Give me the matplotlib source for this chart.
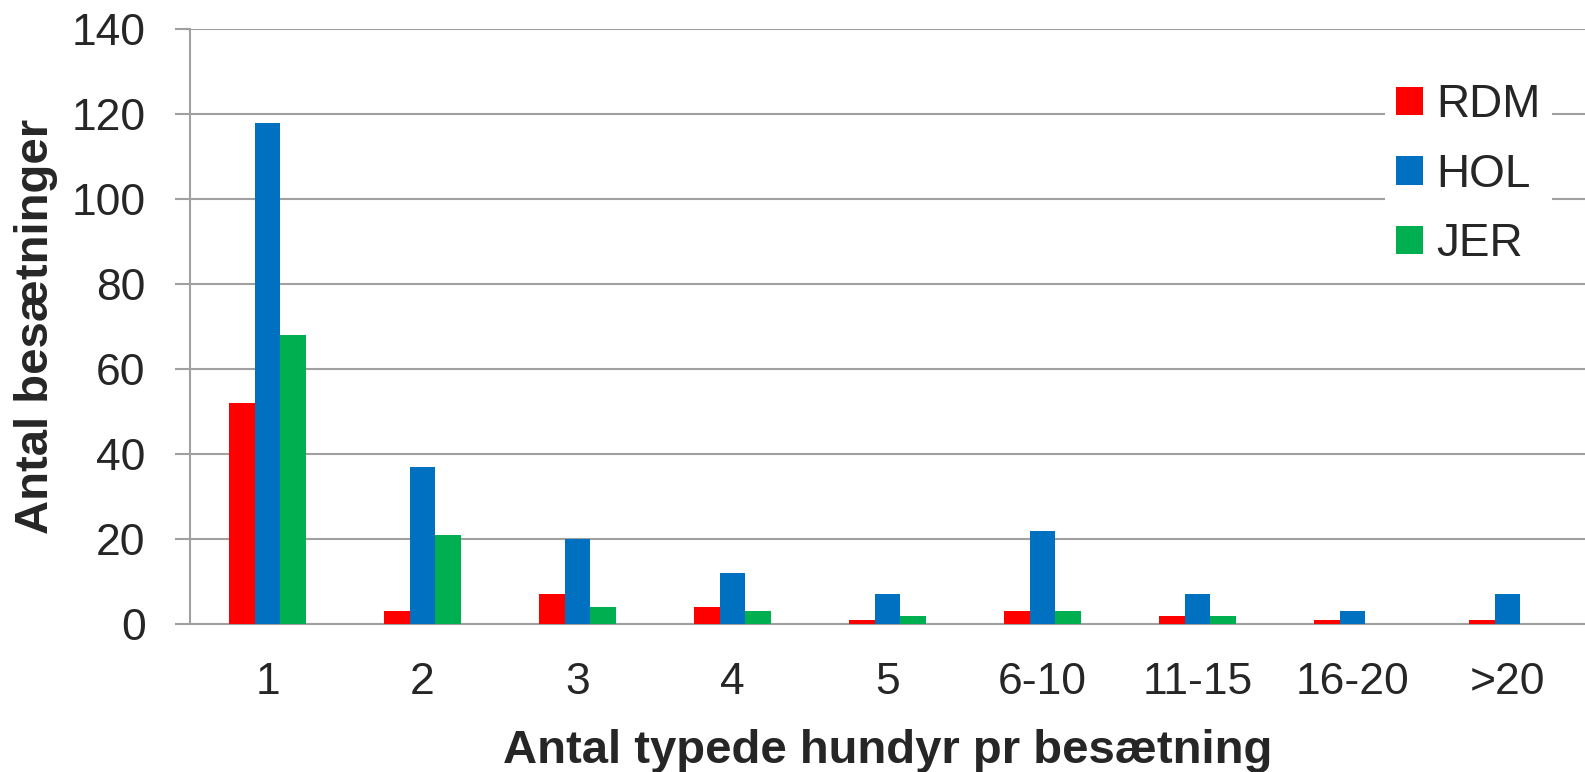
import numpy as np
import matplotlib
matplotlib.use('Agg')
import matplotlib.pyplot as plt

plt.rcParams['font.family'] = ['Liberation Sans', 'DejaVu Sans']

categories = ['1', '2', '3', '4', '5', '6-10', '11-15', '16-20', '>20']
rdm = [52, 3, 7, 4, 1, 3, 2, 1, 1]
hol = [118, 37, 20, 12, 7, 22, 7, 3, 7]
jer = [68, 21, 4, 3, 2, 3, 2, 0, 0]

series = [('RDM', rdm, '#ff0000'), ('HOL', hol, '#0070c0'), ('JER', jer, '#00b050')]

fig = plt.figure(figsize=(15.85, 7.72), dpi=100)
ax = fig.add_axes([0.1199, 0.1917, 0.8801, 0.7707])

x = np.arange(len(categories))
w = 1 / 6
for i, (name, vals, col) in enumerate(series):
    ax.bar(x + (i - 1) * w, vals, width=w, color=col, label=name, zorder=3)

ax.set_xlim(-0.5, len(categories) - 0.5)
ax.set_ylim(0, 140)
ax.set_yticks(range(0, 141, 20))
ax.yaxis.grid(True, color='#a0a0a0', linewidth=1.5, zorder=0)
ax.set_xticks(x)
ax.set_xticklabels(categories)
ax.tick_params(axis='x', length=0, labelsize=32, pad=27, colors='#262626')
ax.tick_params(axis='y', length=11, width=1.5, color='#a0a0a0', labelsize=32, pad=21, labelcolor='#262626')

for s in ['top', 'right']:
    ax.spines[s].set_visible(False)
for s in ['left', 'bottom']:
    ax.spines[s].set_color('#a0a0a0')
    ax.spines[s].set_linewidth(1.5)

ax.set_xlabel('Antal typede hundyr pr besætning', fontsize=34, fontweight='bold', color='#262626', labelpad=19)
ax.set_ylabel('Antal besætninger', fontsize=34, fontweight='bold', color='#262626', labelpad=10)

# legend box with white background, no border (covers gridlines like Excel)
leg = fig.legend(*ax.get_legend_handles_labels(), loc='upper left', bbox_to_anchor=(1385 / 1585, 1 - 71.5 / 772),
                 fontsize=33, frameon=True, handlelength=0.57, handleheight=0.57, handletextpad=0.3,
                 labelspacing=0.56, borderpad=0.25, borderaxespad=0, fancybox=False)
leg.get_frame().set_edgecolor('white')
leg.get_frame().set_facecolor('white')
leg.get_frame().set_alpha(1)
leg.get_frame().set_linewidth(0)
for t in leg.get_texts():
    t.set_color('#262626')

plt.savefig('out.png', dpi=100)
